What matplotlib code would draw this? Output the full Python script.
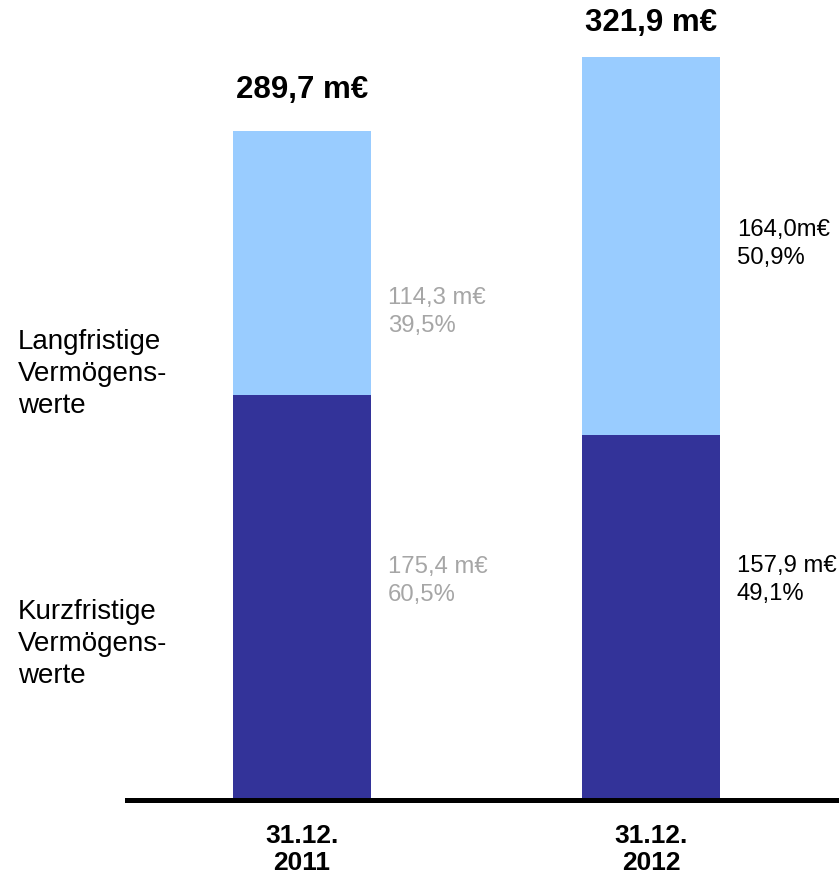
import numpy as np
import matplotlib
matplotlib.use("Agg")
import matplotlib.pyplot as plt

plt.rcParams['font.family'] = ['Liberation Sans', 'DejaVu Sans']

dates = ["31.12.\n2011", "31.12.\n2012"]
kurzfristig = [175.4, 157.9]
langfristig = [114.3, 164.0]
totals = ["289,7 m€", "321,9 m€"]
lang_labels = ["114,3 m€\n39,5%", "164,0m€\n50,9%"]
kurz_labels = ["175,4 m€\n60,5%", "157,9 m€\n49,1%"]
label_colors = ["#A6A6A6", "black"]

dark = "#333399"
light = "#99CCFF"

fig = plt.figure(figsize=(8.39, 8.77), dpi=100)
ax = fig.add_axes([127 / 839, 77 / 877, 712 / 839, 800 / 877])

x = np.arange(len(dates))
w = 0.395
ax.bar(x, kurzfristig, width=w, color=dark, zorder=2)
ax.bar(x, langfristig, width=w, bottom=kurzfristig, color=light, zorder=2)

ax.set_xlim(-0.501, 1.539)
ax.set_ylim(0, 346.5)

for s in ["top", "right", "left"]:
    ax.spines[s].set_visible(False)
ax.spines["bottom"].set_linewidth(3.6)
ax.spines["bottom"].set_zorder(3)
ax.set_yticks([])
ax.set_xticks(x)
ax.set_xticklabels(dates, fontsize=19, fontweight="bold", linespacing=1.2)
ax.tick_params(axis="x", length=0, pad=17)

# totals above bars (baseline positions)
total_y = [304.0, 333.0]
for i in range(len(dates)):
    ax.text(x[i], total_y[i], totals[i], ha="center", va="baseline",
            fontsize=22.5, fontweight="bold")

# segment labels right of bars
lang_y = [211.3, 240.8]
kurz_y = [94.8, 95.3]
for i in range(len(dates)):
    xr = x[i] + w / 2 + 17 / 349
    ax.text(xr, lang_y[i], lang_labels[i], ha="left", va="center",
            fontsize=17.2, color=label_colors[i], linespacing=1.37)
    ax.text(xr, kurz_y[i], kurz_labels[i], ha="left", va="center",
            fontsize=17.2, color=label_colors[i], linespacing=1.37)

# legend text on the left
fig.text(18 / 839, 1 - 374 / 877, "Langfristige\nVermögens-\nwerte",
         ha="left", va="center", fontsize=20, linespacing=1.32)
fig.text(18 / 839, 1 - 644 / 877, "Kurzfristige\nVermögens-\nwerte",
         ha="left", va="center", fontsize=20, linespacing=1.32)

fig.savefig("out.png", dpi=100)
